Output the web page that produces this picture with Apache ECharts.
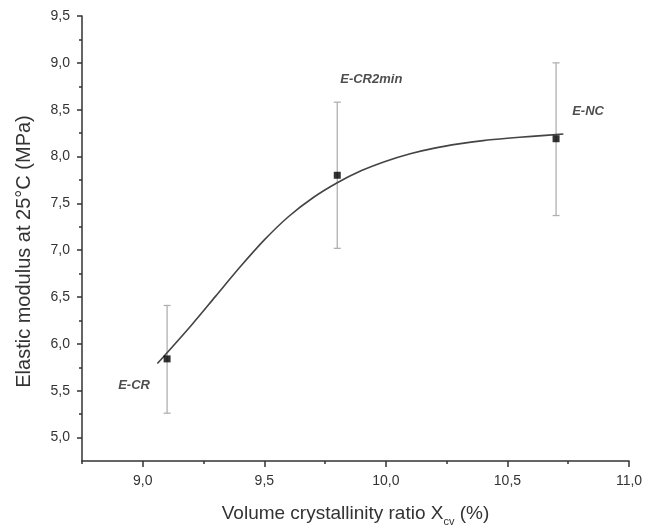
<!DOCTYPE html>
<html>
<head>
<meta charset="utf-8">
<script src="https://cdn.jsdelivr.net/npm/echarts@6/dist/echarts.min.js"></script>
<style>html,body{margin:0;padding:0;background:#fff}#c{width:665px;height:532px}</style>
</head>
<body>
<div id="c"></div>
<script>
// Data
const sampleNames = ['E-CR', 'E-CR2min', 'E-NC'];
const crystallinity = [9.1, 9.8, 10.7];
const modulus = [5.84, 7.80, 8.19];
const errLow = [5.26, 7.02, 7.37];
const errHigh = [6.41, 8.58, 9.00];
const fitX = [9.06, 9.2, 9.3, 9.4, 9.5, 9.6, 9.7, 9.8, 9.9, 10.0, 10.1, 10.2, 10.3, 10.4, 10.5, 10.6, 10.73];
const fitY = [5.79, 6.20, 6.51, 6.82, 7.11, 7.36, 7.56, 7.72, 7.85, 7.95, 8.03, 8.09, 8.135, 8.17, 8.195, 8.215, 8.24];
const yMajorTicks = [5.0, 5.5, 6.0, 6.5, 7.0, 7.5, 8.0, 8.5, 9.0, 9.5];
const yMinorTicks = [5.25, 5.75, 6.25, 6.75, 7.25, 7.75, 8.25, 8.75, 9.25];
const xMajorTicks = [9.0, 9.5, 10.0, 10.5, 11.0];
const xMinorTicks = [8.75, 9.25, 9.75, 10.25, 10.75];

const labelOffsets = [[-33, 27], [34, -96], [32, -27]];

const fmt = v => v.toFixed(1).replace('.', ',');
const axisColor = '#333';
const textColor = '#333';

const chart = echarts.init(document.getElementById('c'));
const option = {
  backgroundColor: '#fff',
  animation: false,
  grid: { left: 82, right: 36, top: 16, bottom: 70, containLabel: false },
  xAxis: [{
    type: 'value', min: 8.75, max: 11.0,
    name: 'Volume crystallinity ratio X{sub|cv} (%)',
    nameLocation: 'middle', nameGap: 40,
    nameTextStyle: {
      fontFamily: 'Liberation Sans', fontSize: 19, color: textColor,
      lineHeight: 26,
      rich: { sub: { fontFamily: 'Liberation Sans', fontSize: 11, color: textColor, verticalAlign: 'bottom', lineHeight: 10 } }
    },
    axisLine: { lineStyle: { color: axisColor, width: 1.5 } },
    axisTick: { customValues: xMajorTicks, length: 6, inside: false, lineStyle: { color: axisColor, width: 1.5 } },
    axisLabel: { customValues: xMajorTicks, formatter: fmt, margin: 13, fontFamily: 'Liberation Sans', fontSize: 14, color: textColor },
    splitLine: { show: false }
  }, {
    type: 'value', min: 8.75, max: 11.0, position: 'bottom',
    axisLine: { show: false },
    axisTick: { customValues: xMinorTicks, length: 3, lineStyle: { color: axisColor, width: 1.5 } },
    axisLabel: { show: false }, splitLine: { show: false }
  }],
  yAxis: [{
    type: 'value', min: 4.75, max: 9.5,
    name: 'Elastic modulus at 25°C (MPa)',
    nameLocation: 'middle', nameGap: 48, nameRotate: 90,
    nameTextStyle: { fontFamily: 'Liberation Sans', fontSize: 20, color: textColor, padding: [0, 26, 0, 0] },
    axisLine: { show: true, lineStyle: { color: axisColor, width: 1.5 } },
    axisTick: { show: true, customValues: yMajorTicks, length: 5, lineStyle: { color: axisColor, width: 1.5 } },
    axisLabel: { customValues: yMajorTicks, formatter: fmt, margin: 12, fontFamily: 'Liberation Sans', fontSize: 14, color: textColor },
    splitLine: { show: false }
  }, {
    type: 'value', min: 4.75, max: 9.5, position: 'left',
    axisLine: { show: false },
    axisTick: { show: true, customValues: yMinorTicks, length: 3, lineStyle: { color: axisColor, width: 1.5 } },
    axisLabel: { show: false }, splitLine: { show: false }
  }],
  series: [
    {
      type: 'custom', name: 'error',
      xAxisIndex: 0, yAxisIndex: 0,
      data: crystallinity.map((x, i) => [x, errLow[i], errHigh[i]]),
      renderItem: function (params, api) {
        const x = api.value(0);
        const lo = api.coord([x, api.value(1)]);
        const hi = api.coord([x, api.value(2)]);
        const w = 3.5;
        const style = { stroke: '#b0b0b0', lineWidth: 1.3 };
        return {
          type: 'group',
          children: [
            { type: 'line', shape: { x1: lo[0], y1: lo[1], x2: hi[0], y2: hi[1] }, style },
            { type: 'line', shape: { x1: lo[0] - w, y1: lo[1], x2: lo[0] + w, y2: lo[1] }, style },
            { type: 'line', shape: { x1: hi[0] - w, y1: hi[1], x2: hi[0] + w, y2: hi[1] }, style }
          ]
        };
      },
      z: 1
    },
    {
      type: 'line', name: 'fit', smooth: 0.3, showSymbol: false, symbol: 'none',
      xAxisIndex: 0, yAxisIndex: 0,
      data: fitX.map((x, i) => [x, fitY[i]]),
      lineStyle: { color: '#444', width: 1.6 },
      z: 2
    },
    {
      type: 'scatter', name: 'points', symbol: 'rect', symbolSize: 7,
      xAxisIndex: 0, yAxisIndex: 0,
      itemStyle: { color: '#000' },
      data: crystallinity.map((x, i) => ({
        value: [x, modulus[i]],
        label: {
          show: true, formatter: sampleNames[i], position: 'inside',
          offset: labelOffsets[i],
          fontFamily: 'Liberation Sans', fontStyle: 'italic', fontWeight: 'bold', fontSize: 13, color: '#222'
        }
      })),
      z: 3
    }
  ]
};
chart.setOption(option);
</script>
</body>
</html>
